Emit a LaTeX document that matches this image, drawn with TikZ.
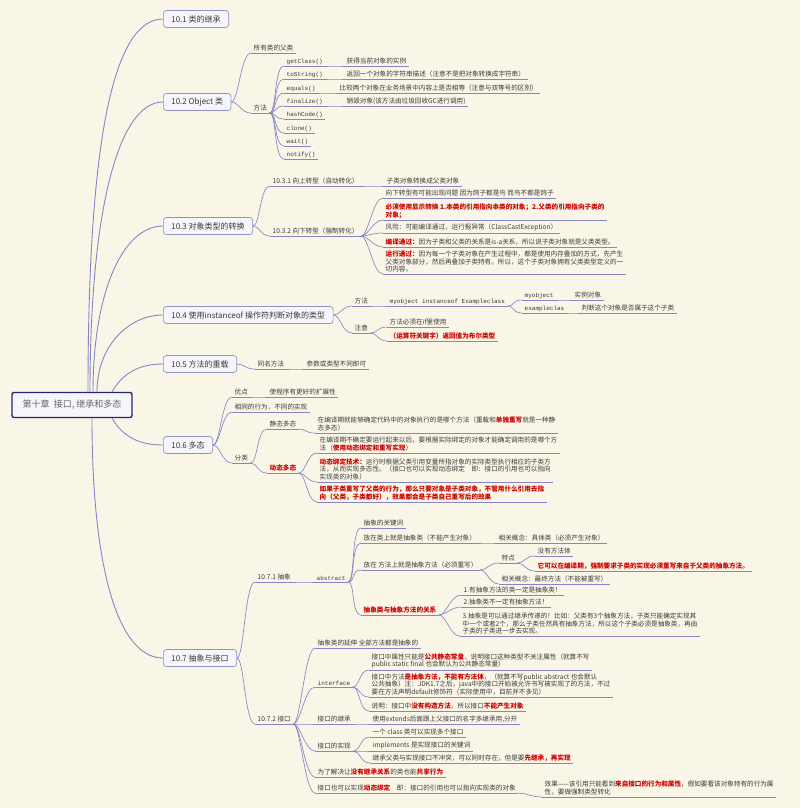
\documentclass[tikz,border=0pt]{standalone}
\usepackage{fontspec}
\setmainfont{Noto Sans CJK SC}
\newfontfamily\codefont{Liberation Mono}

\definecolor{paper}{HTML}{F9F6E7}
\definecolor{linkc}{HTML}{8686C4}
\definecolor{boxfill}{HTML}{F6F5FB}
\definecolor{boxline}{HTML}{9292C2}
\definecolor{rootline}{HTML}{26266E}
\definecolor{txt}{HTML}{3A3A3A}
\definecolor{hot}{HTML}{CC0000}

\newcommand\leaffont{\fontsize{6.6}{7.8}\selectfont}
\newcommand\redb[1]{{\bfseries\color{hot}#1}}

\tikzset{
  root/.style={draw=rootline, line width=1.4pt, fill=boxfill, rounded corners=2pt,
    minimum width=120pt, minimum height=25pt, text=black!60, font=\fontsize{9}{11}\selectfont},
  topic/.style={draw=boxline, line width=0.7pt, fill=boxfill, rounded corners=3pt, anchor=west,
    inner xsep=8pt, minimum height=17pt, text=txt, font=\fontsize{8}{9.5}\selectfont},
  leaf/.style={anchor=south west, inner xsep=2.5pt, inner ysep=1.4pt, align=left,
    text=txt, font=\leaffont},
  hotleaf/.style={leaf, text=hot, font=\leaffont\bfseries},
  code/.style={leaf, font=\codefont\fontsize{6}{7.8}\selectfont},
  link/.style={draw=linkc, line width=0.65pt},
  trunk/.style={draw=linkc, line width=0.9pt},
  branch/.style={out=0, in=180, out distance=7pt, in distance=10pt}
}

\begin{document}
\begin{tikzpicture}[x=1pt, y=-1pt]
\useasboundingbox (0,0) rectangle (800,808);
\fill[paper] (0,0) rectangle (800,808);

% main topics
\node[root] (root) at (72,405) {第十章\ \ 接口, 继承和多态};
\node[topic] (t1) at (163,19) {10.1 类的继承};
\node[topic] (t2) at (163,102) {10.2 Object 类};
\node[topic] (t3) at (163,226) {10.3 对象类型的转换};
\node[topic] (t4) at (163,315) {10.4 使用instanceof 操作符判断对象的类型};
\node[topic] (t5) at (163,364) {10.5 方法的重载};
\node[topic] (t6) at (163,445) {10.6 多态};
\node[topic] (t7) at (163,658) {10.7 抽象与接口};

\draw[trunk] ([xshift=16pt]root.north) to[out=90,in=180,out distance=250pt,in distance=50pt] (t1.west);
\draw[trunk] ([xshift=18pt]root.north) to[out=90,in=180,out distance=180pt,in distance=45pt] (t2.west);
\draw[trunk] ([xshift=21pt]root.north) to[out=90,in=180,out distance=100pt,in distance=40pt] (t3.west);
\draw[trunk] ([xshift=25pt]root.north) to[out=90,in=180,out distance=45pt,in distance=35pt] (t4.west);
\draw[trunk] ([xshift=40pt]root.north) to[out=60,in=180] (t5.west);
\draw[trunk] ([xshift=40pt]root.south) to[out=-60,in=180] (t6.west);
\draw[trunk] ([xshift=20pt]root.south) to[out=-90,in=180,out distance=150pt,in distance=45pt] (t7.west);

% 10.2 Object
\node[leaf] (a1) at (251,53) {所有类的父类};
\node[leaf] (a2) at (251,113) {方法};
\node[code] (getclass) at (284,66) {getClass()};
\node[code] (tostring) at (284,79) {toString()};
\node[code] (equals) at (284,93) {equals()};
\node[code] (finalize) at (284,106) {finalize()};
\node[code] (hashcode) at (284,119) {hashCode()};
\node[code] (clone) at (284,133) {clone()};
\node[code] (wait) at (284,146) {wait()};
\node[code] (notify) at (284,159) {notify()};
\node[leaf] (getclass-d) at (344,66) {获得当前对象的实例};
\node[leaf] (tostring-d) at (344,79) {返回一个对象的字符串描述（注意不是把对象转换成字符串）};
\node[leaf] (equals-d) at (337,93) {比较两个对象在业务场景中内容上是否相等（注意与双等号的区别）};
\node[leaf] (finalize-d) at (344,106) {销毁对象(该方法由垃圾回收GC进行调用)};

\draw[link] (t2.east) to[branch] (a1.south west);
\draw[link] (t2.east) to[branch] (a2.south west);
\foreach \m in {getclass,tostring,equals,finalize,hashcode,clone,wait,notify}
  \draw[link] (a2.south east) to[branch] (\m.south west);
\foreach \m in {getclass,tostring,equals,finalize}
  \draw[link] (\m.south east) to[branch] (\m-d.south west);

% 10.3 cast
\node[leaf] (b1) at (270,186) {10.3.1 向上转型（自动转化）};
\node[leaf] (b1-d) at (384,186) {子类对象转换成父类对象};
\node[leaf] (b2) at (270,236) {10.3.2 向下转型（强制转化）};
\node[leaf] (c1) at (383,198) {向下转型有可能出现问题 因为鸽子都是鸟 而鸟不都是鸽子};
\node[hotleaf] (c2) at (383,220) {必须使用显示转换 1.本类的引用指向本类的对象；2.父类的引用指向子类的\\对象；};
\node[leaf] (c3) at (383,233) {风险：可能编译通过，运行报异常（ClassCastException）};
\node[leaf] (c4) at (383,247) {\redb{编译通过：}因为子类和父类的关系是is-a关系，所以说子类对象就是父类类型。};
\node[leaf] (c5) at (383,274) {\redb{运行通过：}因为每一个子类对象在产生过程中，都是使用内存叠加的方式，先产生\\父类对象部分，然后再叠加子类特有。所以，这个子类对象拥有父类类型定义的一\\切内容。};

\draw[link] (t3.east) to[branch] (b1.south west);
\draw[link] (t3.east) to[branch] (b2.south west);
\draw[link] (b1.south east) to[branch] (b1-d.south west);
\foreach \c in {c1,c2,c3,c4,c5}
  \draw[link] (b2.south east) to[branch] (\c.south west);

% 10.4 instanceof
\node[leaf] (d1) at (352,306) {方法};
\node[code] (d2) at (387,306) {myobject instanceof Exampleclass};
\node[code] (d3) at (522,300) {myobject};
\node[leaf] (d3-d) at (572,300) {实例对象};
\node[code] (d4) at (522,313) {exampleclas};
\node[leaf] (d4-d) at (579,313) {判断这个对象是否属于这个子类};
\node[leaf] (d5) at (352,333) {注意};
\node[leaf] (d6) at (387,327) {方法必须在if里使用};
\node[hotleaf] (d7) at (387,341) {（运算符关键字）返回值为布尔类型};

\draw[link] (t4.east) to[branch] (d1.south west);
\draw[link] (t4.east) to[branch] (d5.south west);
\draw[link] (d1.south east) to[branch] (d2.south west);
\draw[link] (d2.south east) to[branch] (d3.south west);
\draw[link] (d2.south east) to[branch] (d4.south west);
\draw[link] (d3.south east) to[branch] (d3-d.south west);
\draw[link] (d4.south east) to[branch] (d4-d.south west);
\draw[link] (d5.south east) to[branch] (d6.south west);
\draw[link] (d5.south east) to[branch] (d7.south west);

% 10.5 overload
\node[leaf] (e1) at (255,369) {同名方法};
\node[leaf] (e2) at (304,369) {参数或类型不同即可};
\draw[link] (t5.east) to[branch] (e1.south west);
\draw[link] (e1.south east) to[branch] (e2.south west);

% 10.6 polymorphism
\node[leaf] (f1) at (232,397) {优点};
\node[leaf] (f1-d) at (267,397) {使程序有更好的扩展性};
\node[leaf] (f2) at (232,412) {相同的行为，不同的实现};
\node[leaf] (f3) at (232,463) {分类};
\node[leaf] (f4) at (267,429) {静态多态};
\node[leaf] (f4-d) at (315,433) {在编译期就能够确定代码中的对象执行的是哪个方法（重载和\redb{单独重写}就是一种静\\态多态）};
\node[hotleaf] (f5) at (267,473) {动态多态};
\node[leaf] (g1) at (317,453) {在编译期不确定要运行起来以后，要根据实际绑定的对象才能确定调用的是哪个方\\法（\redb{使用动态绑定和重写实现}）};
\node[leaf] (g2) at (317,482) {\redb{动态绑定技术：}运行时根据父类引用变量所指对象的实际类型执行相应的子类方\\法，从而实现多态性。（接口也可以实现动态绑定\quad 即：接口的引用也可以指向\\实现类的对象）};
\node[hotleaf] (g3) at (317,502) {如果子类重写了父类的行为，那么只要对象是子类对象，不管用什么引用去指\\向（父类，子类都好），效果都会是子类自己重写后的效果};

\draw[link] (t6.east) to[branch] (f1.south west);
\draw[link] (t6.east) to[branch] (f2.south west);
\draw[link] (t6.east) to[branch] (f3.south west);
\draw[link] (f1.south east) to[branch] (f1-d.south west);
\draw[link] (f3.south east) to[branch] (f4.south west);
\draw[link] (f3.south east) to[branch] (f5.south west);
\draw[link] (f4.south east) to[branch] (f4-d.south west);
\foreach \g in {g1,g2,g3}
  \draw[link] (f5.south east) to[branch] (\g.south west);

% 10.7.1 abstract
\node[leaf] (h1) at (255,582) {10.7.1 抽象};
\node[code] (h2) at (314,582) {abstract};
\node[leaf] (i1) at (361,528) {抽象的关键词};
\node[leaf] (i2) at (361,543) {放在类上就是抽象类（不能产生对象）};
\node[leaf] (i2-d) at (496,543) {相关概念：具体类（必须产生对象）};
\node[leaf] (i3) at (361,570) {放在\ 方法上就是抽象方法（必须重写）};
\node[leaf] (j1) at (499,563) {特点};
\node[leaf] (k1) at (535,556) {没有方法体};
\node[hotleaf] (k2) at (535,571) {它可以在编译期，强制要求子类的实现必须重写来自于父类的抽象方法。};
\node[leaf] (j2) at (499,584) {相关概念：最终方法（不能被重写）};
\node[hotleaf] (i4) at (361,615) {抽象类与抽象方法的关系};
\node[leaf] (l1) at (461,595) {1.有抽象方法的类一定是抽象类！};
\node[leaf] (l2) at (461,607) {2.抽象类不一定有抽象方法！};
\node[leaf] (l3) at (460,636) {3.抽象是可以通过继承传递的！比如：父类有3个抽象方法，子类只能确定实现其\\中一个或者2个，那么子类任然具有抽象方法，所以这个子类必须是抽象类，再由\\子类的子类进一步去实现。};

% 10.7.2 interface
\node[leaf] (h3) at (255,724) {10.7.2 接口};
\node[leaf] (n1) at (315,648) {抽象类的延伸 全部方法都是抽象的};
\node[code] (n2) at (315,687) {interface};
\node[leaf] (o1) at (369,670) {接口中属性只能是\redb{公共静态常量}，说明接口这种类型不关注属性（就算不写\\public static final 也会默认为公共静态常量）};
\node[leaf] (o2) at (369,697) {接口中方法\redb{是抽象方法，不能有方法体}，（就算不写public abstract 也会默认\\公共抽象）注：JDK1.7之后，java中的接口开始被允许书写被实现了的方法，不过\\要在方法声明default修饰符（实际使用中，目前并不多见）};
\node[leaf] (o3) at (369,711) {说明：接口中\redb{没有构造方法}，所以接口\redb{不能产生对象}};
\node[leaf] (n3) at (315,724) {接口的继承};
\node[leaf] (n3-d) at (370,724) {使用extends后面跟上父接口的名字多继承用,分开};
\node[leaf] (n4) at (315,751) {接口的实现};
\node[leaf] (p1) at (370,737) {一个 class 类可以实现多个接口};
\node[leaf] (p2) at (370,751) {implements 是实现接口的关键词};
\node[leaf] (p3) at (370,763) {继承父类与实现接口不冲突，可以同时存在，但是要\redb{先继承，再实现}};
\node[leaf] (n5) at (315,777) {为了解决让\redb{没有继承关系}的类也能\redb{共享行为}};
\node[leaf] (n6) at (315,793) {接口也可以实现\redb{动态绑定}\quad 即：接口的引用也可以指向实现类的对象};
\node[leaf] (n6-d) at (542,797) {效果——该引用只能看到\redb{来自接口的行为和属性}，假如要看该对象特有的行为属\\性，要做强制类型转化};

\draw[link] (t7.east) to[branch] (h1.south west);
\draw[link] (t7.east) to[branch] (h3.south west);
\draw[link] (h1.south east) to[branch] (h2.south west);
\foreach \i in {i1,i2,i3,i4}
  \draw[link] (h2.south east) to[branch] (\i.south west);
\draw[link] (i2.south east) to[branch] (i2-d.south west);
\draw[link] (i3.south east) to[branch] (j1.south west);
\draw[link] (i3.south east) to[branch] (j2.south west);
\draw[link] (j1.south east) to[branch] (k1.south west);
\draw[link] (j1.south east) to[branch] (k2.south west);
\foreach \l in {l1,l2,l3}
  \draw[link] (i4.south east) to[branch] (\l.south west);
\foreach \n in {n1,n2,n3,n4,n5,n6}
  \draw[link] (h3.south east) to[branch] (\n.south west);
\foreach \o in {o1,o2,o3}
  \draw[link] (n2.south east) to[branch] (\o.south west);
\draw[link] (n3.south east) to[branch] (n3-d.south west);
\foreach \p in {p1,p2,p3}
  \draw[link] (n4.south east) to[branch] (\p.south west);
\draw[link] (n6.south east) to[branch] (n6-d.south west);

% underlines
\foreach \u in {a1,a2,getclass,tostring,equals,finalize,hashcode,clone,wait,notify,
    getclass-d,tostring-d,equals-d,finalize-d,b1,b1-d,b2,c1,c2,c3,c4,c5,
    d1,d2,d3,d3-d,d4,d4-d,d5,d6,d7,e1,e2,f1,f1-d,f2,f3,f4,f4-d,f5,g1,g2,g3,
    h1,h2,i1,i2,i2-d,i3,j1,k1,k2,j2,i4,l1,l2,l3,
    h3,n1,n2,o1,o2,o3,n3,n3-d,n4,p1,p2,p3,n5,n6,n6-d}
  \draw[link] (\u.south west) -- (\u.south east);

\end{tikzpicture}
\end{document}
